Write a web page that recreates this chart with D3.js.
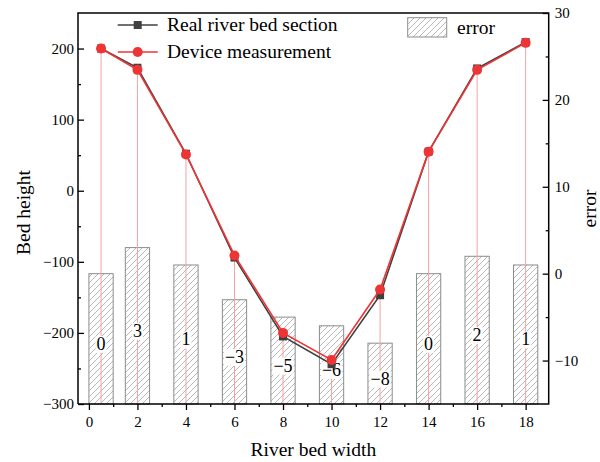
<!DOCTYPE html>
<html>
<head>
<meta charset="utf-8">
<script src="https://cdn.jsdelivr.net/npm/d3@7"></script>
<style>
  html, body { margin: 0; padding: 0; background: #fff; }
  svg { display: block; }
  svg text { font-family: "Liberation Serif", "Times New Roman", serif !important; fill: #000; }
</style>
</head>
<body>
<svg id="chart" width="600" height="462"></svg>
<script>
// ---- data ----
const xPositions = [0.5, 2, 4, 6, 8, 10, 12, 14, 16, 18];
const realBed = [200, 173, 52, -94, -205, -244, -147, 55, 172, 209];
const deviceMeasure = [200, 170, 51, -91, -200, -238, -139, 55, 170, 208];
const errorValues = [0, 3, 1, -3, -5, -6, -8, 0, 2, 1];
const xTicks = [0, 2, 4, 6, 8, 10, 12, 14, 16, 18];
const yLeftTicks = [-300, -200, -100, 0, 100, 200];
const yRightTicks = [-10, 0, 10, 20, 30];
const seriesNames = ["Real river bed section", "Device measurement", "error"];

// ---- layout ----
const FONT = "'Liberation Serif', 'Times New Roman', serif";
const svg = d3.select("#chart");
const L = 78, R = 548.7, T = 13, B = 404;
const x = d3.scaleLinear().domain([-0.45, 18.95]).range([L, R]);
const y = d3.scaleLinear().domain([-300, 250]).range([B, T]);
const y2 = d3.scaleLinear().domain([-15, 30]).range([B, T]);
const fmtMinus = d => (d < 0 ? "\u2212" + Math.abs(d) : String(d));

const defs = svg.append("defs");
const pat = defs.append("pattern").attr("id", "hatch")
  .attr("patternUnits", "userSpaceOnUse").attr("width", 6).attr("height", 6);
pat.append("rect").attr("width", 6).attr("height", 6).attr("fill", "#fff");
pat.append("path").attr("d", "M-1,1 l2,-2 M0,6 l6,-6 M5,7 l2,-2")
  .attr("stroke", "#9a9a9a").attr("stroke-width", 0.7);

// ---- bars ----
const barW = x(1) - x(0);
svg.append("g").selectAll("rect").data(errorValues).join("rect")
  .attr("x", (d, i) => x(xPositions[i]) - barW / 2)
  .attr("width", barW)
  .attr("y", d => y2(d))
  .attr("height", d => B - y2(d))
  .attr("fill", "url(#hatch)")
  .attr("stroke", "#8c8c8c").attr("stroke-width", 1);

// ---- drop lines ----
svg.append("g").selectAll("line").data(deviceMeasure).join("line")
  .attr("x1", (d, i) => x(xPositions[i])).attr("x2", (d, i) => x(xPositions[i]))
  .attr("y1", d => y(d)).attr("y2", B)
  .attr("stroke", "#f4a3a3").attr("stroke-width", 1);

// ---- bar labels ----
const lab = svg.append("g").selectAll("g").data(errorValues).join("g")
  .attr("transform", (d, i) => `translate(${x(xPositions[i])},${(y2(d) + B) / 2 + 11})`);
lab.append("text").attr("text-anchor", "middle").style("font-size", "18px").style("font-family", FONT)
  .text(d => fmtMinus(d))
  .each(function () {
    const bb = this.getBBox();
    d3.select(this.parentNode).insert("rect", "text")
      .attr("x", bb.x - 1).attr("y", bb.y + 2).attr("width", bb.width + 2).attr("height", bb.height - 3)
      .attr("fill", "#fff");
  });

// ---- lines ----
const line = d3.line().x((d, i) => x(xPositions[i])).y(d => y(d));
svg.append("path").datum(realBed).attr("d", line)
  .attr("fill", "none").attr("stroke", "#404040").attr("stroke-width", 1.6);
svg.append("g").selectAll("rect").data(realBed).join("rect")
  .attr("x", (d, i) => x(xPositions[i]) - 4).attr("y", d => y(d) - 4)
  .attr("width", 8).attr("height", 8).attr("fill", "#404040");
svg.append("path").datum(deviceMeasure).attr("d", line)
  .attr("fill", "none").attr("stroke", "#ee3535").attr("stroke-width", 1.6);
svg.append("g").selectAll("circle").data(deviceMeasure).join("circle")
  .attr("cx", (d, i) => x(xPositions[i])).attr("cy", d => y(d)).attr("r", 5)
  .attr("fill", "#ee3535");

// ---- axes ----
svg.append("g").attr("transform", `translate(0,${B})`)
  .call(d3.axisBottom(x).tickValues(xTicks).tickSize(6).tickPadding(6).tickFormat(d3.format("d")));
svg.append("g").attr("transform", `translate(0,${B})`)
  .call(d3.axisBottom(x).tickValues(d3.range(1, 19, 2)).tickSize(3).tickFormat(""));
const axL = svg.append("g").attr("transform", `translate(${L},0)`)
  .call(d3.axisRight(y).tickValues(yLeftTicks).tickSize(6).tickFormat(fmtMinus));
axL.selectAll("text").attr("x", -4).attr("text-anchor", "end");
svg.append("g").attr("transform", `translate(${L},0)`)
  .call(d3.axisRight(y).tickValues([-250, -150, -50, 50, 150]).tickSize(3).tickFormat(""));
const axR = svg.append("g").attr("transform", `translate(${R},0)`)
  .call(d3.axisLeft(y2).tickValues(yRightTicks).tickSize(6).tickFormat(d3.format("d")));
axR.selectAll("text").attr("x", 6).attr("text-anchor", "start");
svg.append("g").attr("transform", `translate(${R},0)`)
  .call(d3.axisLeft(y2).tickValues([-5, 5, 15, 25]).tickSize(3).tickFormat(""));
svg.selectAll(".domain").remove();
svg.selectAll(".tick line").attr("stroke", "#000").attr("stroke-width", 1.3);
svg.selectAll(".tick text").style("font-size", "15px").style("font-family", FONT).attr("fill", "#000");

// frame
svg.append("path").attr("d", `M${L},${B} V${T} H${R} V${B} H${L}`)
  .attr("fill", "none").attr("stroke", "#000").attr("stroke-width", 1.5);

// ---- titles ----
svg.append("text").attr("x", (L + R) / 2).attr("y", 456).attr("text-anchor", "middle")
  .style("font-size", "19.5px").style("font-family", FONT).text("River bed width");
svg.append("text").attr("transform", `translate(30,${(T + B) / 2 + 4}) rotate(-90)`)
  .attr("text-anchor", "middle").style("font-size", "19.5px").style("font-family", FONT).text("Bed height");
svg.append("text").attr("transform", `translate(596,${(T + B) / 2}) rotate(-90)`)
  .attr("text-anchor", "middle").style("font-size", "19.5px").style("font-family", FONT).text("error");

// ---- legend ----
const lg = svg.append("g");
[[realBed, "#404040", "sq"], [deviceMeasure, "#ee3535", "ci"]].forEach((s, i) => {
  const cy = 25 + i * 27;
  lg.append("line").attr("x1", 117.7).attr("x2", 157.7).attr("y1", cy).attr("y2", cy)
    .attr("stroke", s[1]).attr("stroke-width", 1.6);
  if (s[2] === "sq") lg.append("rect").attr("x", 133.7).attr("y", cy - 4).attr("width", 8).attr("height", 8).attr("fill", s[1]);
  else lg.append("circle").attr("cx", 137.7).attr("cy", cy).attr("r", 5).attr("fill", s[1]);
  lg.append("text").attr("x", 167).attr("y", cy + 6).style("font-size", "19.5px").style("font-family", FONT).text(seriesNames[i]);
});
lg.append("rect").attr("x", 407.7).attr("y", 17.7).attr("width", 39).attr("height", 19.3)
  .attr("fill", "url(#hatch)").attr("stroke", "#8c8c8c").attr("stroke-width", 1);
lg.append("text").attr("x", 457).attr("y", 34).style("font-size", "19.5px").style("font-family", FONT).text(seriesNames[2]);
</script>
</body>
</html>
